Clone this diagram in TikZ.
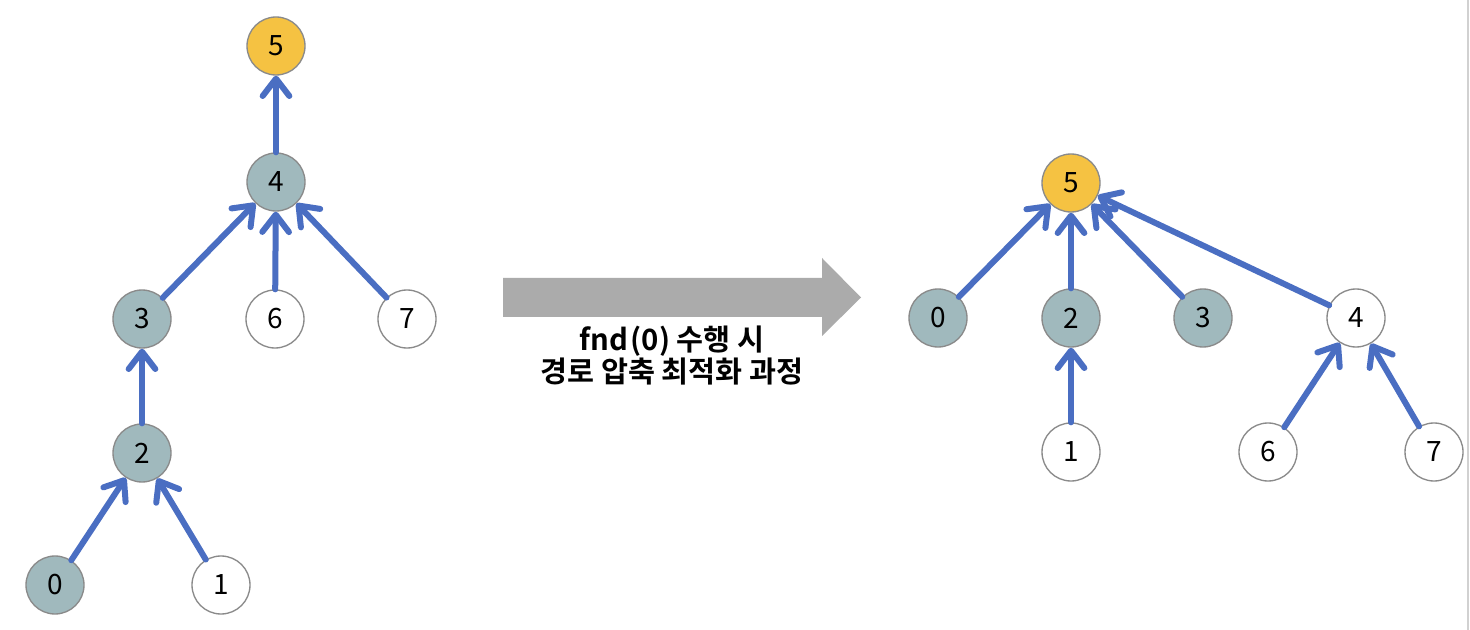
\documentclass[tikz,border=0pt]{standalone}
\usepackage{fontspec}
\setmainfont{Noto Sans CJK KR}
\newfontfamily\krb{Noto Sans CJK KR Bold}
\usetikzlibrary{arrows.meta}
\definecolor{nodegrey}{HTML}{A0B9BD}
\definecolor{nodeyellow}{HTML}{F5C242}
\definecolor{edgeblue}{HTML}{4A6EC2}
\definecolor{rimgrey}{HTML}{8A8A8A}
\definecolor{bigarrow}{HTML}{ABABAB}
\tikzset{
  vtx/.style={circle,draw=rimgrey,line width=1pt,minimum size=43.5pt,inner sep=0pt,font=\fontsize{21}{21}\selectfont},
  gvtx/.style={vtx,fill=nodegrey},
  yvtx/.style={vtx,fill=nodeyellow},
  wvtx/.style={vtx,fill=white},
  edge/.style={draw=edgeblue,line width=4.5pt,line cap=round,
    -{Straight Barb[length=13pt,width=20pt,line cap=round,line join=round]}},
}
\begin{document}
\begin{tikzpicture}[x=0.75pt,y=-0.75pt]
\useasboundingbox (0,0) rectangle (1470,630);
\fill[white] (0,0) rectangle (1470,630);
\draw[line width=1.5pt,draw=black!18] (1468,0) -- (1468,630);
% left tree
\node[yvtx] (L5) at (276,46) {5};
\node[gvtx] (L4) at (276,182) {4};
\node[gvtx] (L3) at (142,319) {3};
\node[wvtx] (L6) at (275,319) {6};
\node[wvtx] (L7) at (407,319) {7};
\node[gvtx] (L2) at (142,453) {2};
\node[gvtx] (L0) at (55,585) {0};
\node[wvtx] (L1) at (221,585) {1};
\draw[edge] (L4) -- (L5);
\draw[edge] (L3) -- (L4);
\draw[edge] (L6) -- (L4);
\draw[edge] (L7) -- (L4);
\draw[edge] (L2) -- (L3);
\draw[edge] (L0) -- (L2);
\draw[edge] (L1) -- (L2);
% big arrow
\fill[bigarrow] (503,278) -- (822,278) -- (822,258) -- (861,297.5) -- (822,336) -- (822,317) -- (503,317) -- cycle;
\node[font=\krb\fontsize{22}{24}\selectfont,align=center] (cap) at (672,356) {fnd\kern2pt(0) 수행 시\\경로 압축 최적화 과정};
% right tree
\node[yvtx] (R5) at (1071,183) {5};
\node[gvtx] (R0) at (938,318) {0};
\node[gvtx] (R2) at (1071,318) {2};
\node[gvtx] (R3) at (1203,318) {3};
\node[wvtx] (R4) at (1356,318) {4};
\node[wvtx] (R1) at (1071,452) {1};
\node[wvtx] (R6) at (1268,452) {6};
\node[wvtx] (R7) at (1434,452) {7};
\draw[edge] (R0) -- (R5);
\draw[edge] (R2) -- (R5);
\draw[edge] (R3) -- (R5);
\draw[edge] (R4) -- (R5);
\draw[edge] (R1) -- (R2);
\draw[edge] (R6) -- (R4);
\draw[edge] (R7) -- (R4);
\end{tikzpicture}
\end{document}
